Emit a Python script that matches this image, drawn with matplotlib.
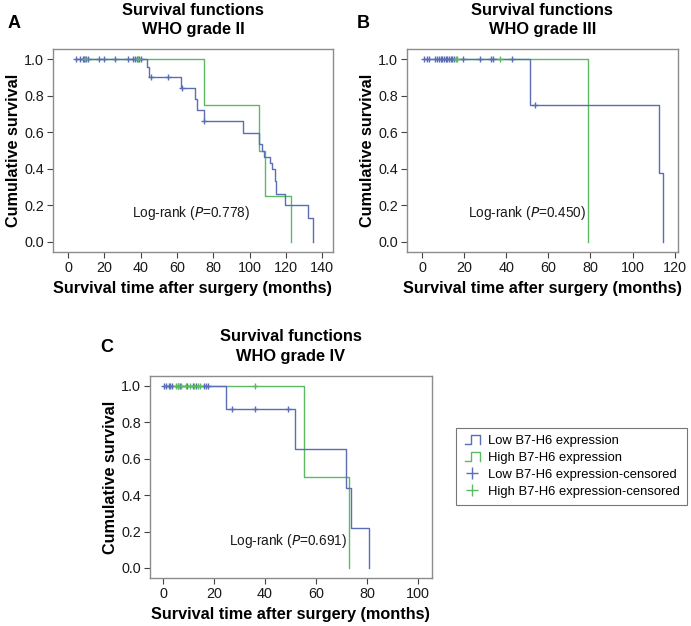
import matplotlib
matplotlib.use("Agg")
import matplotlib.pyplot as plt
from matplotlib.lines import Line2D
from matplotlib.legend_handler import HandlerBase

plt.rcParams['font.family'] = ['Liberation Sans', 'DejaVu Sans']

BLUE = '#5a6db5'
GREEN = '#5cba62'

# ---------------- Data ----------------
# Panel A: WHO grade II
a_low_t = [4.6, 43.7, 44.6, 62.1, 70.0, 70.9, 75.0, 96.1, 104.9, 106.8, 107.7, 111.0, 112.5, 113.8, 114.5, 119.6, 131.9, 134.9]
a_low_s = [1.0, 0.955, 0.90, 0.84, 0.78, 0.72, 0.66, 0.595, 0.535, 0.50, 0.466, 0.43, 0.40, 0.335, 0.265, 0.20, 0.133, 0.0]
a_low_c_t = [4.6, 6.8, 8.2, 9.0, 10.0, 10.8, 17.0, 20.0, 26.0, 33.0, 36.0, 37.0, 38.0, 39.0, 40.0, 45.6, 55.0, 62.7, 75.0]
a_low_c_s = [1.0] * 15 + [0.90, 0.90, 0.84, 0.66]
a_high_t = [8.0, 75.0, 104.9, 108.6, 122.9]
a_high_s = [1.0, 0.75, 0.50, 0.25, 0.0]
a_high_c_t = [9.5, 38.5]
a_high_c_s = [1.0, 1.0]

# Panel B: WHO grade III
b_low_t = [0.9, 51.4, 112.4, 114.4]
b_low_s = [1.0, 0.75, 0.375, 0.0]
b_low_c_t = [0.9, 2.2, 3.5, 6.3, 7.3, 8.1, 8.9, 9.7, 10.4, 11.2, 12.0, 12.8, 13.6, 14.4, 15.2, 19.5, 27.7, 32.9, 33.7, 42.9, 53.5]
b_low_c_s = [1.0] * 20 + [0.75]
b_high_t = [16.0, 78.8]
b_high_s = [1.0, 0.0]
b_high_c_t = [16.0, 16.6, 36.9]
b_high_c_s = [1.0, 1.0, 1.0]

# Panel C: WHO grade IV
c_low_t = [0.3, 24.8, 51.9, 71.9, 73.9, 81.0]
c_low_s = [1.0, 0.875, 0.656, 0.437, 0.219, 0.0]
c_low_c_t = [0.3, 1.3, 2.2, 2.9, 3.7, 5.9, 6.5, 9.4, 11.8, 13.0, 16.3, 17.0, 17.6, 27.0, 36.0, 49.0]
c_low_c_s = [1.0] * 13 + [0.875, 0.875, 0.875]
c_high_t = [5.0, 55.2, 73.0]
c_high_s = [1.0, 0.5, 0.0]
c_high_c_t = [5.0, 5.9, 7.2, 9.2, 10.5, 12.2, 13.7, 14.4, 36.0]
c_high_c_s = [1.0] * 9

panels = [
    dict(letter='A', grade='WHO grade II', pval='0.778',
         low=(a_low_t, a_low_s, a_low_c_t, a_low_c_s),
         high=(a_high_t, a_high_s, a_high_c_t, a_high_c_s),
         xticks=[0, 20, 40, 60, 80, 100, 120, 140], xlim=(-8.3, 145.8),
         text_xy=(68, 0.16),
         pos=[0.0767, 0.5974, 0.405, 0.3243]),
    dict(letter='B', grade='WHO grade III', pval='0.450',
         low=(b_low_t, b_low_s, b_low_c_t, b_low_c_s),
         high=(b_high_t, b_high_s, b_high_c_t, b_high_c_s),
         xticks=[0, 20, 40, 60, 80, 100, 120], xlim=(-7.1, 121.5),
         text_xy=(50, 0.16),
         pos=[0.589, 0.5974, 0.392, 0.3243]),
    dict(letter='C', grade='WHO grade IV', pval='0.691',
         low=(c_low_t, c_low_s, c_low_c_t, c_low_c_s),
         high=(c_high_t, c_high_s, c_high_c_t, c_high_c_s),
         xticks=[0, 20, 40, 60, 80, 100], xlim=(-5.1, 105.5),
         text_xy=(49, 0.15),
         pos=[0.217, 0.0767, 0.408, 0.3227]),
]

fig = plt.figure(figsize=(6.91, 6.26), dpi=100)

SPINE = '#8c8c8c'
for p in panels:
    ax = fig.add_axes(p['pos'])
    for key, col in (('low', BLUE), ('high', GREEN)):
        t, s, ct, cs = p[key]
        ax.step(t, s, where='post', color=col, lw=1.0, zorder=3 if key == 'low' else 2)
        ax.plot(ct, cs, linestyle='none', marker='+', color=col, ms=4, mew=1.0,
                zorder=4)
    ax.set_xlim(*p['xlim'])
    ax.set_ylim(-0.055, 1.055)
    ax.set_xticks(p['xticks'])
    ax.set_yticks([0.0, 0.2, 0.4, 0.6, 0.8, 1.0])
    ax.set_yticklabels(['0.0', '0.2', '0.4', '0.6', '0.8', '1.0'])
    for sp in ax.spines.values():
        sp.set_color(SPINE)
        sp.set_linewidth(1.0)
    ax.tick_params(direction='out', length=4, width=0.8, color='#444444',
                   labelsize=10.4, labelcolor='#1a1a1a', pad=2.5)
    ax.set_xlabel('Survival time after surgery (months)', fontsize=11.7,
                  fontweight='bold', labelpad=4)
    ax.set_ylabel('Cumulative survival', fontsize=11.7, fontweight='bold', labelpad=2)
    ax.set_title('Survival functions\n' + p['grade'], fontsize=11.8,
                 fontweight='bold', linespacing=1.35, pad=11)
    ax.text(p['text_xy'][0], p['text_xy'][1],
            r'Log-rank ($\mathit{P}$=' + p['pval'] + ')',
            fontsize=9.8, ha='center', va='center', color='#1a1a1a')

# Panel letters
fig.text(8 / 691, 1 - 24 / 626, 'A', fontsize=13, fontweight='bold', ha='left', va='center')
fig.text(357 / 691, 1 - 24 / 626, 'B', fontsize=13, fontweight='bold', ha='left', va='center')
fig.text(100 / 691, 1 - 348 / 626, 'C', fontsize=13, fontweight='bold', ha='left', va='center')


class StepHandler(HandlerBase):
    def create_artists(self, legend, orig_handle, xdescent, ydescent,
                       width, height, fontsize, trans):
        x0 = -xdescent
        y0 = -ydescent
        xs = [x0 + width * 0.1, x0 + width * 0.45, x0 + width * 0.45, x0 + width * 0.9, x0 + width * 0.9]
        ys = [y0, y0, y0 + height, y0 + height, y0]
        ln = Line2D(xs, ys, color=orig_handle.get_color(), lw=1.0, transform=trans)
        return [ln]


h1 = Line2D([], [], color=BLUE)
h2 = Line2D([], [], color=GREEN)
h3 = Line2D([], [], color=BLUE, marker='+', linestyle='none', ms=8, mew=1.0)
h4 = Line2D([], [], color=GREEN, marker='+', linestyle='none', ms=8, mew=1.0)
leg = fig.legend([h1, h2, h3, h4],
                 ['Low B7-H6 expression', 'High B7-H6 expression',
                  'Low B7-H6 expression-censored', 'High B7-H6 expression-censored'],
                 handler_map={h1: StepHandler(), h2: StepHandler()},
                 loc='upper left', bbox_to_anchor=(456 / 691, 1 - 428 / 626),
                 fontsize=9.4, frameon=True, fancybox=False, handlelength=1.4,
                 handletextpad=0.5, labelspacing=0.36, borderpad=0.55,
                 borderaxespad=0.0)
leg.get_frame().set_edgecolor('#555555')
leg.get_frame().set_linewidth(0.8)

fig.savefig('out.png', dpi=100)
